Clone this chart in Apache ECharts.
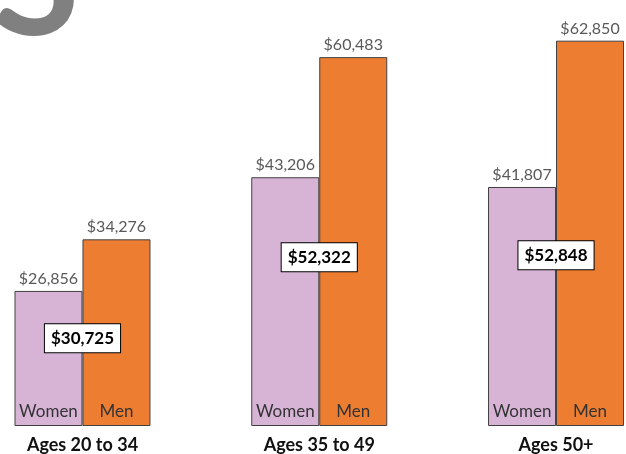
<!DOCTYPE html>
<html>
<head>
<meta charset="utf-8">
<script src="https://cdn.jsdelivr.net/npm/echarts@6/dist/echarts.min.js"></script>
<style>
html,body{margin:0;padding:0;background:#ffffff;}
#chart{width:626px;height:454px;}
</style>
</head>
<body>
<div id="chart"></div>
<script>
const categories = ['Ages 20 to 34', 'Ages 35 to 49', 'Ages 50+'];
const women = [26856, 43206, 41807];
const men = [34276, 60483, 62850];
const combined = [30725, 52322, 52848];
const seriesNames = ['Women', 'Men'];

const FONT = 'Lato';
const money = v => '$' + Number(v).toLocaleString('en-US');

const chart = echarts.init(document.getElementById('chart'), null, {renderer: 'canvas'});

const hiddenX = { type: 'category', data: categories, show: false };

const option = {
  animation: false,
  backgroundColor: '#ffffff',
  graphic: [{
    type: 'text', left: -8, top: -97, z: -10, silent: true,
    style: { text: 'S', font: 'bold 160px Lato', fill: '#808080' }
  }],
  grid: { left: -35.9, right: -48.4, top: 0, bottom: 28.5, containLabel: false, outerBoundsMode: 'none' },
  xAxis: [
    {
      type: 'category', data: categories,
      axisLine: {show: false}, axisTick: {show: false}, splitLine: {show: false},
      axisLabel: { margin: 11, fontFamily: FONT, fontWeight: 'bold', fontSize: 18, color: '#111111' }
    },
    Object.assign({}, hiddenX),
    Object.assign({}, hiddenX)
  ],
  yAxis: [{ type: 'value', min: 7500, max: 68700, show: false, splitLine: {show: false} }],
  series: [
    {
      name: seriesNames[0], type: 'bar', data: women, xAxisIndex: 0, barWidth: 68, barGap: 0,
      itemStyle: { color: '#D7B4D6', borderColor: '#404040', borderWidth: 1 },
      label: { show: true, position: 'top', distance: 4, fontFamily: FONT, fontSize: 16, color: '#595959',
               formatter: p => money(p.value) }
    },
    {
      name: seriesNames[1], type: 'bar', data: men, xAxisIndex: 0, barWidth: 68, barGap: 0,
      itemStyle: { color: '#ED7D31', borderColor: '#404040', borderWidth: 1 },
      label: { show: true, position: 'top', distance: 4, fontFamily: FONT, fontSize: 16, color: '#595959',
               formatter: p => money(p.value) }
    },
    {
      name: seriesNames[0] + ' label', type: 'bar', data: women, xAxisIndex: 1, barWidth: 68, barGap: 0,
      silent: true, itemStyle: { color: 'rgba(0,0,0,0)' },
      label: { show: true, position: 'insideBottom', distance: 5, fontFamily: FONT, fontSize: 17, color: '#333333',
               formatter: () => seriesNames[0] }
    },
    {
      name: seriesNames[1] + ' label', type: 'bar', data: men, xAxisIndex: 1, barWidth: 68, barGap: 0,
      silent: true, itemStyle: { color: 'rgba(0,0,0,0)' },
      label: { show: true, position: 'insideBottom', distance: 5, fontFamily: FONT, fontSize: 17, color: '#333333',
               formatter: () => seriesNames[1] }
    },
    {
      name: 'Combined', type: 'bar', data: combined, xAxisIndex: 2, barWidth: 1, z: 5,
      silent: true, itemStyle: { color: 'rgba(0,0,0,0)' },
      label: { show: true, position: ['50%', '46%'], align: 'center', verticalAlign: 'middle',
               fontFamily: FONT, fontSize: 17, fontWeight: 'bold', color: '#000000',
               backgroundColor: '#ffffff', borderColor: '#000000', borderWidth: 1, padding: [6, 6, 5, 6],
               formatter: p => money(p.value) }
    }
  ]
};
chart.setOption(option);
</script>
</body>
</html>
